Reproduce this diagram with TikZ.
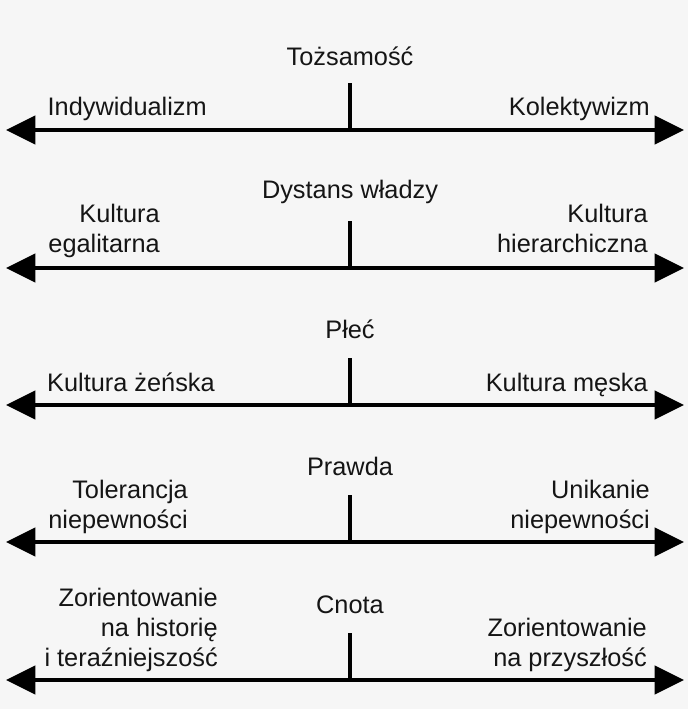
\documentclass[tikz,border=0pt]{standalone}
\usepackage{fontspec}
\setmainfont{Liberation Sans}
\usetikzlibrary{arrows.meta}
\definecolor{paper}{HTML}{F6F6F6}
\definecolor{ink}{HTML}{151515}

\begin{document}
\begin{tikzpicture}[
  x=0.75pt, y=-0.75pt,
  font=\fontsize{19}{22.5}\selectfont,
  axis/.style={{Triangle[length=22pt,width=21pt]}-{Triangle[length=22pt,width=21pt]},
    line width=3pt, draw=black},
  tick/.style={line width=3pt, draw=black},
  head/.style={anchor=base, text=ink, inner sep=0pt},
  pole/.style={anchor=base east, align=right, text=ink, inner sep=0pt}
]

\fill[paper] (0,0) rectangle (688,709);
\useasboundingbox (0,0) rectangle (688,709);

% Tozsamosc
\coordinate (l1) at (6,130);
\coordinate (r1) at (684,130);
\coordinate (m1) at (350,130);
\coordinate (t1) at (350,83);
\draw[axis] (l1) -- (r1);
\draw[tick] (m1) -- (t1);
\node[head] (id) at (350,66) {Tożsamość};
\node[pole] (ind) at (207,116) {Indywidualizm};
\node[pole] (kol) at (650,116) {Kolektywizm};

% Dystans wladzy
\coordinate (l2) at (6,268);
\coordinate (r2) at (684,268);
\coordinate (m2) at (350,268);
\coordinate (t2) at (350,221);
\draw[axis] (l2) -- (r2);
\draw[tick] (m2) -- (t2);
\node[head] (pd) at (350,199) {Dystans władzy};
\node[pole] (ega) at (160,252) {Kultura\\egalitarna};
\node[pole] (hier) at (648,252) {Kultura\\hierarchiczna};

% Plec
\coordinate (l3) at (6,405);
\coordinate (r3) at (684,405);
\coordinate (m3) at (350,405);
\coordinate (t3) at (350,358);
\draw[axis] (l3) -- (r3);
\draw[tick] (m3) -- (t3);
\node[head] (gen) at (350,338) {Płeć};
\node[pole] (fem) at (215,391) {Kultura żeńska};
\node[pole] (mas) at (648,391) {Kultura męska};

% Prawda
\coordinate (l4) at (6,542);
\coordinate (r4) at (684,542);
\coordinate (m4) at (350,542);
\coordinate (t4) at (350,495);
\draw[axis] (l4) -- (r4);
\draw[tick] (m4) -- (t4);
\node[head] (unc) at (350,475) {Prawda};
\node[pole] (tol) at (188,528) {Tolerancja\\niepewności};
\node[pole] (avo) at (650,528) {Unikanie\\niepewności};

% Cnota
\coordinate (l5) at (6,680);
\coordinate (r5) at (684,680);
\coordinate (m5) at (350,680);
\coordinate (t5) at (350,633);
\draw[axis] (l5) -- (r5);
\draw[tick] (m5) -- (t5);
\node[head] (vir) at (350,613) {Cnota};
\node[pole] (past) at (218,666) {Zorientowanie\\na historię\\i teraźniejszość};
\node[pole] (fut) at (647,666) {Zorientowanie\\na przyszłość};

\end{tikzpicture}
\end{document}
